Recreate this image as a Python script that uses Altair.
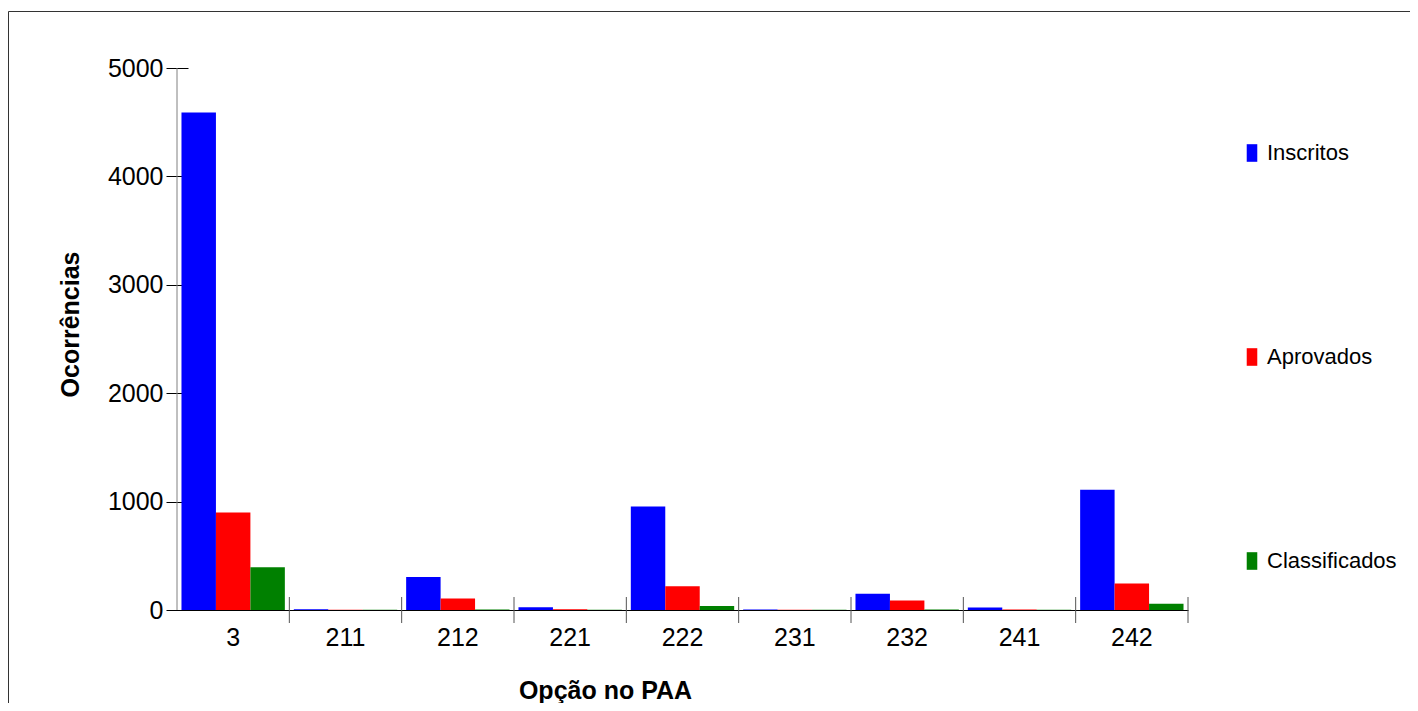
import altair as alt
import pandas as pd

categories = ["3", "211", "212", "221", "222", "231", "232", "241", "242"]
series = ["Inscritos", "Aprovados", "Classificados"]
inscritos = [4590, 6, 304, 25, 955, 4, 150, 22, 1110]
aprovados = [900, 3, 105, 6, 218, 3, 88, 5, 245]
classificados = [395, 2, 5, 3, 38, 2, 4, 3, 58]
colors = ["#0000FF", "#FF0000", "#008000"]
y_ticks = [0, 1000, 2000, 3000, 4000, 5000]

rows = []
for s, vals in zip(series, [inscritos, aprovados, classificados]):
    for c, v in zip(categories, vals):
        rows.append({"cat": c, "serie": s, "valor": v})
df = pd.DataFrame(rows)
sep = pd.DataFrame({"cat": categories})
one = pd.DataFrame({"k": [0]})

W, H = 1011, 542
FONT = "Liberation Sans"

xscale = alt.Scale(domain=categories, paddingInner=0, paddingOuter=0)

x_axis = alt.Axis(
    title="Opção no PAA", labelAngle=0, labelFontSize=25, labelFont=FONT,
    labelColor="black", labelPadding=15, ticks=False, domainColor="black",
    domainWidth=1, titleFontSize=25, titleFont=FONT, titleFontWeight="bold",
    titleColor="black", titleX=428, titleY=88, titleBaseline="alphabetic",
    titleAlign="center",
)

y_axis = alt.Axis(
    title="Ocorrências", values=y_ticks, grid=False, domain=False, offset=-11,
    tickSize=22, tickColor="black", labelFontSize=25, labelPadding=3,
    labelFont=FONT, labelColor="black", format="d", titleFontSize=25,
    titleFontWeight="bold", titleFont=FONT, titleColor="black", titleAngle=-90,
    titleX=-110, titleY=256, titleBaseline="alphabetic", titleAlign="center",
)

legend = alt.Legend(
    title=None, orient="none", legendX=1064, legendY=74, direction="vertical",
    symbolType="M-0.6,-1H0.6V1H-0.6Z", symbolSize=310, symbolStrokeWidth=0,
    labelFontSize=22, labelFont=FONT, labelColor="black", labelOffset=4,
    rowPadding=182, padding=0,
)

bars = alt.Chart(df).mark_bar().encode(
    x=alt.X("cat:N", sort=categories, scale=xscale, axis=x_axis),
    xOffset=alt.XOffset("serie:N", sort=series,
                        scale=alt.Scale(domain=series, paddingInner=0, paddingOuter=0.13)),
    y=alt.Y("valor:Q", scale=alt.Scale(domain=[0, 5000], nice=False), axis=y_axis),
    color=alt.Color("serie:N", sort=series,
                    scale=alt.Scale(domain=series, range=colors), legend=legend),
)

sep_rules = alt.Chart(sep).mark_rule(color="#555555", strokeWidth=1).encode(
    x=alt.X("cat:N", sort=categories, bandPosition=1, scale=xscale, axis=x_axis),
    y=alt.value(H - 13),
    y2=alt.value(H + 13),
)

yline = alt.Chart(one).mark_rule(color="#808080", strokeWidth=1).encode(
    x=alt.value(0), y=alt.value(0), y2=alt.value(H)
)

border = alt.Chart(one).mark_rect(fillOpacity=0, stroke="#333333", strokeWidth=1).encode(
    x=alt.value(-168.5), x2=alt.value(1300), y=alt.value(-56.5), y2=alt.value(700)
)

chart = alt.layer(border, bars, sep_rules, yline).properties(
    width=W, height=H,
    padding={"left": 169, "top": 60, "right": 222, "bottom": 93},
    autosize=alt.AutoSizeParams(type="none"),
).configure_view(strokeWidth=0)

chart.save("out.html", embed_options={"renderer": "svg", "actions": False})
